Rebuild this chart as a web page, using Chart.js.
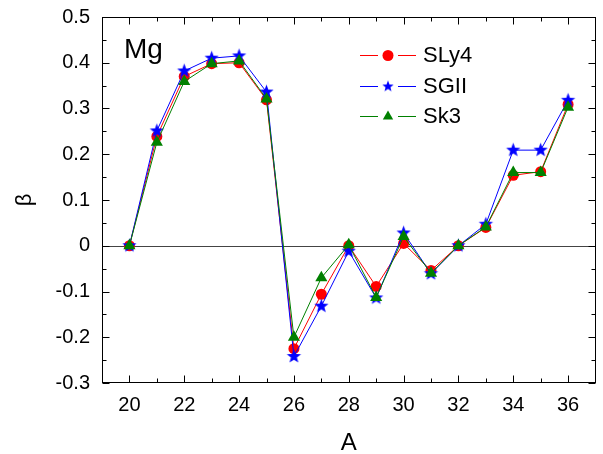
<!DOCTYPE html>
<html><head><meta charset="utf-8">
<script src="https://cdn.jsdelivr.net/npm/chart.js@4/dist/chart.umd.min.js"></script>
<style>html,body{margin:0;padding:0;background:#fff}canvas{display:block}</style>
</head><body>
<canvas id="c" width="603" height="454"></canvas>
<script>
const massNumbers = [20,21,22,23,24,25,26,27,28,29,30,31,32,33,34,35,36];
const sly4 = [0, 0.239, 0.370, 0.398, 0.400, 0.319, -0.225, -0.106, 0.000, -0.089, 0.005, -0.054, 0.000, 0.040, 0.154, 0.162, 0.309];
const sgii = [0, 0.251, 0.382, 0.410, 0.415, 0.336, -0.242, -0.132, -0.012, -0.114, 0.028, -0.061, 0.000, 0.047, 0.209, 0.209, 0.318];
const sk3  = [0, 0.226, 0.359, 0.398, 0.404, 0.321, -0.200, -0.070, 0.002, -0.113, 0.020, -0.060, 0.000, 0.041, 0.160, 0.160, 0.303];
const seriesNames = ['SLy4', 'SGII', 'Sk3'];
const xTickValues = [20,22,24,26,28,30,32,34,36];
const yTickValues = [-0.3,-0.2,-0.1,0,0.1,0.2,0.3,0.4,0.5];
const panelLabel = 'Mg';
const xTitle = 'A';
const yTitle = 'β';

const FONT = "'Liberation Sans', Arial, sans-serif";

function makeStar(color, R) {
  const c = document.createElement('canvas');
  const s = Math.ceil(R * 2 + 2);
  c.width = s; c.height = s;
  const g = c.getContext('2d');
  const cx = s / 2, cy = s / 2, r = R * 0.42;
  g.beginPath();
  for (let i = 0; i < 10; i++) {
    const rad = i % 2 === 0 ? R : r;
    const a = -Math.PI / 2 + i * Math.PI / 5;
    const px = cx + rad * Math.cos(a), py = cy + rad * Math.sin(a);
    i === 0 ? g.moveTo(px, py) : g.lineTo(px, py);
  }
  g.closePath();
  g.fillStyle = color; g.fill();
  return c;
}
const starImg = makeStar('#0000ff', 7.5);
const starLegend = makeStar('#0000ff', 6);

const toXY = arr => arr.map((v, i) => ({x: massNumbers[i], y: v}));

const styles = [
  {color: '#ff0000', pointStyle: 'circle', radius: 5.5, legendStyle: 'circle', legendRadius: 5.5, order: 2},
  {color: '#0000ff', pointStyle: starImg, radius: 7.5, legendStyle: starLegend, legendRadius: 6, order: 1},
  {color: '#008000', pointStyle: 'triangle', radius: 7, legendStyle: 'triangle', legendRadius: 6, order: 0}
];
const allData = [sly4, sgii, sk3];

const datasets = allData.map((d, i) => ({
  label: seriesNames[i],
  data: toXY(d),
  borderColor: styles[i].color,
  backgroundColor: styles[i].color,
  pointBackgroundColor: styles[i].color,
  pointBorderColor: styles[i].color,
  pointStyle: styles[i].pointStyle,
  pointRadius: styles[i].radius,
  pointBorderWidth: 0,
  borderWidth: 1,
  tension: 0,
  order: styles[i].order
}));

const decor = {
  id: 'decor',
  beforeDatasetsDraw(chart) {
    const {ctx, chartArea: a, scales: {x, y}} = chart;
    ctx.save();
    ctx.strokeStyle = '#444';
    ctx.lineWidth = 1.2;
    const y0 = Math.round(y.getPixelForValue(0)) + 0.5;
    ctx.beginPath(); ctx.moveTo(a.left, y0); ctx.lineTo(a.right, y0); ctx.stroke();
    ctx.restore();
  },
  afterDatasetsDraw(chart) {
    const {ctx, chartArea: a, scales: {x, y}} = chart;
    ctx.save();
    ctx.strokeStyle = '#000';
    ctx.lineWidth = 1;
    const L = Math.round(a.left) + 0.5, R = Math.round(a.right) - 0.5;
    const T = Math.round(a.top) + 0.5, B = Math.round(a.bottom) - 0.5;
    ctx.strokeRect(L, T, R - L, B - T);
    ctx.beginPath();
    for (let v = 20; v <= 36; v++) {
      const len = v % 2 === 0 ? 7 : 4;
      const px = Math.round(x.getPixelForValue(v)) + 0.5;
      ctx.moveTo(px, B); ctx.lineTo(px, B - len);
      ctx.moveTo(px, T); ctx.lineTo(px, T + len);
    }
    for (let k = -6; k <= 10; k++) {
      const v = k * 0.05;
      const len = k % 2 === 0 ? 7 : 4;
      const py = Math.round(y.getPixelForValue(v)) + 0.5;
      ctx.moveTo(L, py); ctx.lineTo(L + len, py);
      ctx.moveTo(R, py); ctx.lineTo(R - len, py);
    }
    ctx.stroke();
    ctx.restore();
  },
  afterDraw(chart) {
    const {ctx} = chart;
    ctx.save();
    ctx.fillStyle = '#000';
    ctx.font = '28px ' + FONT;
    ctx.textBaseline = 'alphabetic';
    ctx.textAlign = 'left';
    ctx.fillText(panelLabel, 124, 58);
    const rows = [55, 86, 116];
    ctx.font = '22px ' + FONT;
    ctx.textBaseline = 'middle';
    chart.data.datasets.forEach((ds, i) => {
      const yy = rows[i];
      ctx.save();
      ctx.fillStyle = styles[i].color;
      ctx.fillRect(360, yy, 18, 1);
      ctx.fillRect(398, yy, 18, 1);
      ctx.restore();
      ctx.save();
      ctx.fillStyle = styles[i].color;
      ctx.strokeStyle = styles[i].color;
      Chart.helpers.drawPoint(ctx, {pointStyle: styles[i].legendStyle, radius: styles[i].legendRadius, rotation: 0, borderWidth: 0}, 388, yy + 0.5);
      ctx.restore();
      ctx.fillStyle = '#000';
      ctx.fillText(ds.label, 423, rows[i] + 1);
    });
    ctx.restore();
  }
};

new Chart(document.getElementById('c'), {
  type: 'line',
  data: {datasets},
  plugins: [decor],
  options: {
    responsive: false,
    animation: false,
    devicePixelRatio: 1,
    layout: {padding: {left: 0, right: 5, top: 17, bottom: 0}},
    plugins: {legend: {display: false}, tooltip: {enabled: false}},
    scales: {
      x: {
        type: 'linear', min: 19, max: 37,
        grid: {display: false, drawTicks: false},
        border: {display: false},
        afterBuildTicks: s => { s.ticks = xTickValues.map(v => ({value: v})); },
        afterFit: s => { s.height = 71; s.paddingLeft = 0; s.paddingRight = 0; },
        ticks: {color: '#000', font: {family: FONT, size: 20}, padding: 10, maxRotation: 0, autoSkip: false},
        title: {display: true, text: xTitle, color: '#000', font: {family: FONT, size: 24, lineHeight: 0.85}, padding: {top: 0, bottom: 0}}
      },
      y: {
        type: 'linear', min: -0.3, max: 0.5,
        grid: {display: false, drawTicks: false},
        border: {display: false},
        afterBuildTicks: s => { s.ticks = yTickValues.map(v => ({value: v})); },
        afterFit: s => { s.width = 102; s.paddingTop = 0; s.paddingBottom = 0; },
        ticks: {color: '#000', font: {family: FONT, size: 20}, padding: 12, autoSkip: false,
          callback: v => String(Math.round(v * 10) / 10)},
        title: {display: true, text: yTitle, color: '#000', font: {family: FONT, size: 22, lineHeight: 1}, padding: {top: 14, bottom: 0}}
      }
    }
  }
});
</script>
</body></html>
